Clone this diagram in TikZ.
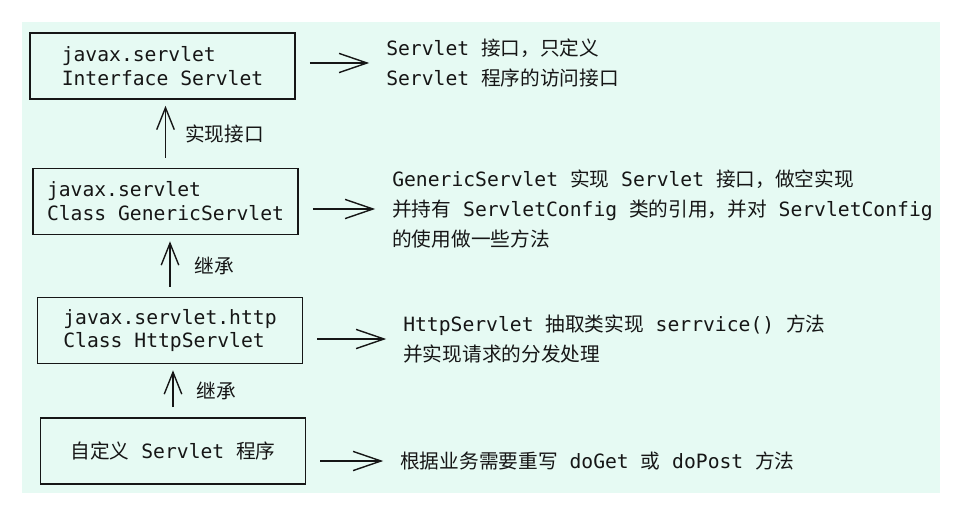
\documentclass[tikz,border=0pt]{standalone}
\usepackage{fontspec}
\usepackage{tikz}
\usetikzlibrary{arrows.meta,positioning}
\setmainfont{DejaVu Sans Mono}
\newfontfamily\zhfont{Noto Sans CJK SC}
\newcommand{\zh}[1]{{\zhfont #1}}
\definecolor{mint}{RGB}{230,250,243}
\definecolor{ink}{RGB}{22,22,22}

\begin{document}
\begin{tikzpicture}[
      cls/.style={rectangle, draw=ink, line width=1.1pt, minimum width=6.625cm, minimum height=1.65cm, align=left, text=ink, font=\fontsize{14}{17}\selectfont},
      desc/.style={anchor=west, inner sep=0pt, align=left, text=ink, font=\fontsize{14}{21}\selectfont},
      lbl/.style={inner sep=0pt, text=ink, font=\fontsize{14}{17}\selectfont},
      up/.style={-{Straight Barb[length=5.5mm, width=4.4mm]}, line width=1pt, color=ink, shorten <=0.25cm, shorten >=0.15cm},
      toarr/.style={-{Straight Barb[length=7mm, width=4.8mm]}, line width=1pt, color=ink, shorten <=0.35cm, shorten >=0.42cm}
    ]
      \useasboundingbox (0,0) rectangle (24.075,-12.85);
      \fill[mint] (0.55,-0.55) rectangle (23.5,-12.325);
      % class chain
      \node[cls] (iface) at (4.0625,-1.65) {javax.servlet\\Interface Servlet};
      \node[cls] (gen) at (4.1375,-5.0375) {javax.servlet\\Class GenericServlet};
      \node[cls] (http) at (4.25,-8.2625) {javax.servlet.http\\Class HttpServlet};
      \node[cls] (own) at (4.325,-11.275) {\zh{自定义} Servlet \zh{程序}};
      \draw[up] (gen.north) -- node[lbl, right=0.475cm]{\zh{实现接口}} (gen.north |- iface.south);
      \draw[up] (http.north) -- node[lbl, right=0.6cm]{\zh{继承}} (http.north |- gen.south);
      \draw[up] (own.north) -- node[lbl, right=0.575cm]{\zh{继承}} (own.north |- http.south);
      % notes
      \node[desc] (d1) at (9.65,-1.575) {Servlet \zh{接口，只定义}\\Servlet \zh{程序的访问接口}};
      \node[desc] (d2) at (9.8,-5.225) {GenericServlet \zh{实现} Servlet \zh{接口，做空实现}\\\zh{并持有} ServletConfig \zh{类的引用，并对} ServletConfig\\\zh{的使用做一些方法}};
      \node[desc] (d3) at (10.075,-8.475) {HttpServlet \zh{抽取类实现} serrvice() \zh{方法}\\\zh{并实现请求的分发处理}};
      \node[desc] (d4) at (10.0,-11.525) {\zh{根据业务需要重写} doGet \zh{或} doPost \zh{方法}};
      \draw[toarr] (d1.west -| iface.east) -- (d1.west);
      \draw[toarr] (d2.west -| gen.east) -- (d2.west);
      \draw[toarr] (d3.west -| http.east) -- (d3.west);
      \draw[toarr] (d4.west -| own.east) -- (d4.west);
    \end{tikzpicture}
\end{document}
